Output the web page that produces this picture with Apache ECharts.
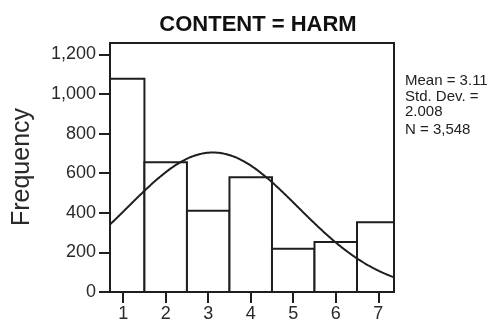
<!DOCTYPE html>
<html>
<head>
<meta charset="utf-8">
<script src="https://cdn.jsdelivr.net/npm/echarts@6/dist/echarts.min.js"></script>
<style>
  html, body { margin: 0; padding: 0; background: #fff; }
  #chart { width: 494px; height: 325px; }
</style>
</head>
<body>
<div id="chart"></div>
<script>
// Histogram of CONTENT = HARM ratings with a fitted normal curve
const categories = [1, 2, 3, 4, 5, 6, 7];
const counts = [1078, 656, 410, 580, 218, 253, 353];
const yTicks = [0, 200, 400, 600, 800, 1000, 1200];
const statMean = 3.11;
const statSd = 2.008;
const statN = 3548;
const statLines = ['Mean = 3.11', 'Std. Dev. =', '2.008', 'N = 3,548'];

const xMin = 0.69, xMax = 7.37, yMax = 1258;
const ink = '#1e1e1e';
const font = '"Liberation Sans", Arial, sans-serif';

// Normal density scaled to counts (bin width 1), using the stated mean / SD / N
const curve = [];
for (let x = xMin; x <= xMax + 1e-9; x += 0.04) {
  const z = (x - statMean) / statSd;
  curve.push([x, statN / (statSd * Math.sqrt(2 * Math.PI)) * Math.exp(-0.5 * z * z)]);
}

const chart = echarts.init(document.getElementById('chart'), null, { renderer: 'canvas' });

chart.setOption({
  animation: false,
  backgroundColor: '#fff',
  grid: {
    left: 110, right: 100, top: 43, bottom: 33,
    show: true, borderColor: ink, borderWidth: 2, backgroundColor: 'transparent'
  },
  xAxis: {
    type: 'value', min: xMin, max: xMax,
    splitLine: { show: false },
    axisLine: { lineStyle: { color: ink, width: 2 } },
    axisTick: { customValues: categories, length: 11, lineStyle: { color: ink, width: 2 } },
    axisLabel: { customValues: categories, margin: 13, fontFamily: font, fontSize: 18, color: '#2a2a2a' }
  },
  yAxis: {
    type: 'value', min: 0, max: yMax,
    splitLine: { show: false },
    axisLine: { show: true, lineStyle: { color: ink, width: 2 } },
    axisTick: { show: true, customValues: yTicks, length: 11, lineStyle: { color: ink, width: 2 } },
    axisLabel: {
      customValues: yTicks, margin: 14, fontFamily: font, fontSize: 18, color: '#2a2a2a',
      formatter: v => v.toLocaleString('en-US')
    }
  },
  series: [
    {
      type: 'custom',
      data: categories.map((c, i) => [c, counts[i]]),
      renderItem: function (params, api) {
        const c = api.value(0), v = api.value(1);
        const p0 = api.coord([c - 0.5, v]);
        const p1 = api.coord([c + 0.5, 0]);
        const rect = echarts.graphic.clipRectByRect(
          { x: p0[0], y: p0[1], width: p1[0] - p0[0], height: p1[1] - p0[1] },
          { x: params.coordSys.x, y: params.coordSys.y, width: params.coordSys.width, height: params.coordSys.height }
        );
        if (!rect) return;
        return {
          type: 'rect', shape: rect,
          style: { fill: '#fff', stroke: ink, lineWidth: 2 }
        };
      },
      z: 2
    },
    {
      type: 'line', data: curve, smooth: true, showSymbol: false,
      lineStyle: { color: ink, width: 2 }, z: 3
    }
  ],
  graphic: [
    {
      type: 'text', x: 258, y: 25,
      style: { text: 'CONTENT = HARM', fontFamily: font, fontWeight: 'bold', fontSize: 22,
        fill: '#111', textAlign: 'center', textVerticalAlign: 'middle' }
    },
    {
      type: 'text', x: 22, y: 167, rotation: Math.PI / 2,
      style: { text: 'Frequency', fontFamily: font, fontSize: 25,
        fill: '#2a2a2a', textAlign: 'center', textVerticalAlign: 'middle' }
    }
  ].concat(statLines.map((t, i) => ({
    type: 'text', x: 405, y: [81, 97, 112, 130][i],
    style: { text: t, fontFamily: font, fontSize: 15, fill: '#222',
      textAlign: 'left', textVerticalAlign: 'middle' }
  })))
});
</script>
</body>
</html>
